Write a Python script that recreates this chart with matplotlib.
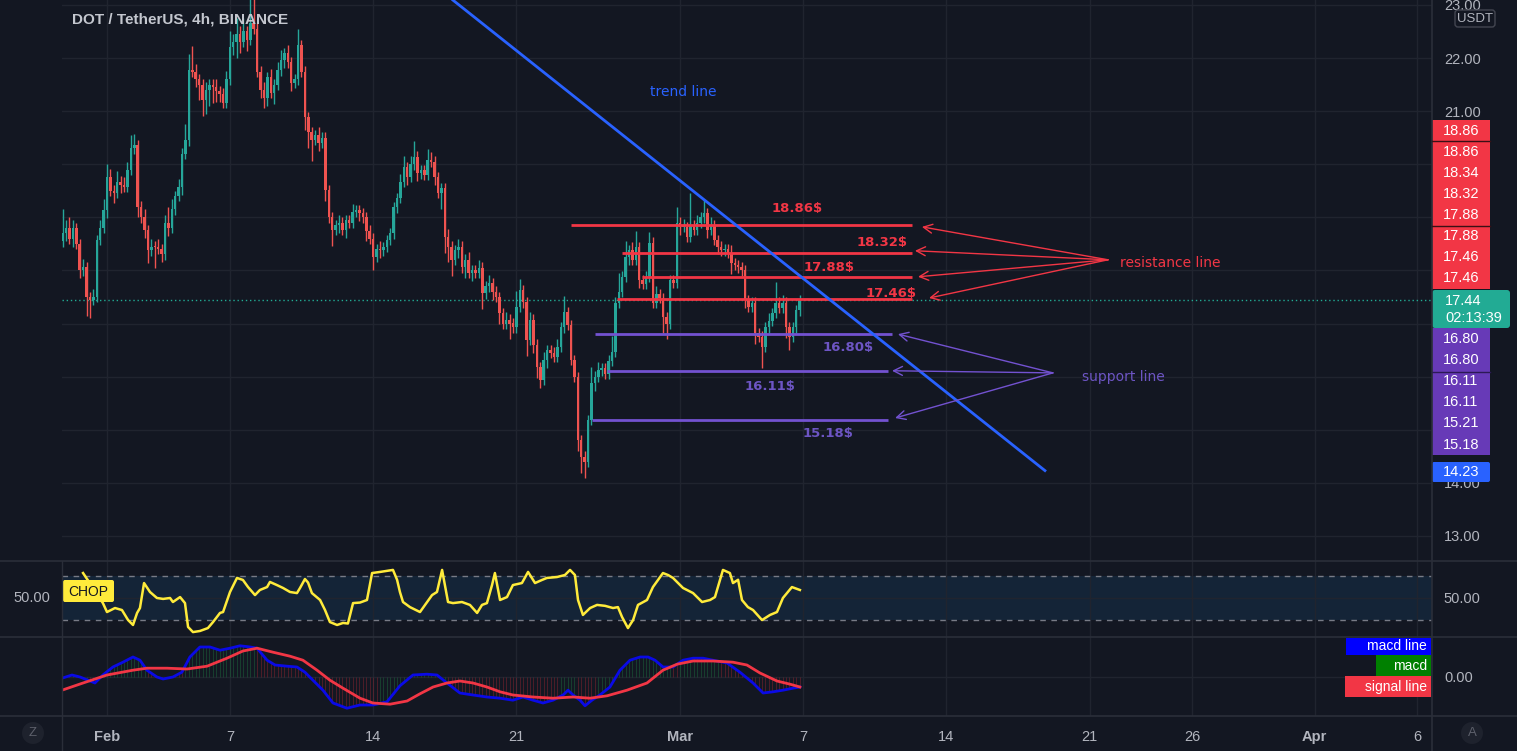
import numpy as np
import matplotlib
matplotlib.use("Agg")
import matplotlib.pyplot as plt
from matplotlib.patches import Rectangle, FancyBboxPatch, Circle

# ---------------- data ----------------
bar0_day = -13 / 6      # first 4h candle (days from Feb 1 00:00) -> Jan 29 20:00
bar_days = 1 / 6        # 4 hours
open0 = 18.55

closes = [
    18.70, 18.80, 18.60, 18.80, 18.50, 18.00, 18.06, 17.50, 17.45, 17.50,
    18.57, 18.80, 19.14, 19.76, 19.50, 19.46, 19.67, 19.60, 19.57, 19.90,
    20.30, 20.36, 19.20, 19.00, 18.76, 18.38, 18.45, 18.44, 18.40, 18.30,
    18.90, 18.80, 19.15, 19.40, 19.57, 20.20, 20.45, 21.77, 21.74, 21.60,
    21.50, 21.20, 21.40, 21.50, 21.45, 21.38, 21.33, 21.15, 21.60, 22.20,
    22.30, 22.45, 22.30, 22.50, 22.34, 22.65, 22.55, 21.74, 21.40, 21.25,
    21.64, 21.34, 21.50, 21.77, 21.96, 22.09, 21.92, 21.53, 21.60, 22.24,
    21.74, 20.89, 20.60, 20.46, 20.55, 20.40, 20.50, 19.51, 19.00, 18.76,
    18.85, 18.90, 18.76, 18.95, 18.90, 19.10, 19.14, 19.08, 19.00, 18.75,
    18.60, 18.25, 18.40, 18.38, 18.44, 18.57, 18.70, 19.19, 19.36, 19.67,
    19.95, 19.76, 20.00, 20.14, 19.83, 19.89, 19.80, 20.08, 20.05, 19.76,
    19.46, 19.55, 18.63, 18.45, 18.20, 18.38, 18.45, 18.06, 18.20, 17.95,
    18.00, 17.95, 18.05, 17.57, 17.70, 17.76, 17.60, 17.50, 17.20, 17.00,
    17.07, 17.00, 16.93, 17.31, 17.63, 17.40, 16.69, 17.07, 16.60, 16.18,
    15.94, 16.31, 16.50, 16.45, 16.37, 16.56, 16.93, 17.22, 16.97, 16.31,
    15.99, 14.80, 14.49, 14.39, 15.18, 15.88, 16.00, 16.12, 16.16, 16.05,
    16.30, 16.46, 17.39, 17.60, 17.88, 18.25, 18.38, 18.20, 18.44, 17.82,
    17.75, 17.88, 18.52, 17.39, 17.55, 17.48, 17.12, 17.00, 17.82, 17.76,
    18.90, 18.82, 18.82, 18.63, 18.85, 18.76, 18.90, 19.00, 19.08, 18.76,
    18.85, 18.57, 18.45, 18.38, 18.40, 18.33, 18.14, 18.10, 18.06, 18.00,
    17.44, 17.31, 17.39, 16.82, 16.75, 16.56, 16.93, 17.05, 17.20, 17.39,
    17.30, 17.39, 16.93, 16.75, 16.93, 17.25, 17.44]

wick_up = [
    .45, .15, .2, .15, .1, .1, .15, .1, .1, .15,
    .1, .15, .2, .25, .15, .1, .2, .1, .15, .15,
    .25, .2, .1, .1, .15, .1, .15, .1, .15, .1,
    .15, .3, .2, .1, .15, .1, .3, .3, .45, .15,
    .1, .1, .15, .1, .1, .15, .1, .1, .15, .3,
    .15, .3, .15, .25, .1, .6, .5, .1, .1, .15,
    .1, .15, .1, .15, .2, .1, .15, .1, .1, .3,
    .1, .1, .1, .1, .1, .15, .1, .1, .1, .1,
    .1, .15, .1, .1, .1, .15, .1, .1, .1, .1,
    .1, .1, .1, .15, .1, .1, .1, .1, .1, .15,
    .2, .1, .15, .3, .1, .1, .1, .2, .15, .1,
    .1, .1, .1, .15, .1, .1, .15, .1, .1, .15,
    .1, .1, .15, .1, .1, .15, .1, .1, .1, .1,
    .15, .1, .1, .3, .2, .1, .1, .15, .1, .1,
    .1, .15, .1, .1, .1, .15, .1, .3, .1, .1,
    .1, .1, .1, .1, .1, .3, .1, .15, .1, .1,
    .1, .3, .1, .35, .1, .3, .1, .15, .3, .1,
    .1, .1, .2, .1, .15, .1, .1, .1, .1, .1,
    .3, .1, .15, .1, .6, .1, .15, .1, .25, .1,
    .15, .1, .1, .1, .1, .1, .15, .1, .1, .1,
    .1, .1, .1, .1, .1, .1, .1, .15, .1, .4,
    .1, .15, .1, .1, .1, .1, .1]

wick_dn = [
    .1, .15, .1, .15, .1, .15, .1, .35, .35, .1,
    .1, .1, .1, .15, .1, .2, .1, .15, .1, .1,
    .1, .1, .2, .1, .15, .25, .1, .4, .1, .15,
    .1, .15, .1, .1, .1, .15, .1, .1, .1, .15,
    .3, .3, .25, .3, .3, .2, .15, .1, .1, .1,
    .15, .3, .2, .1, .2, .1, .1, .1, .15, .2,
    .15, .1, .2, .1, .1, .15, .1, .15, .1, .1,
    .1, .25, .3, .4, .1, .15, .1, .2, .1, .3,
    .1, .15, .1, .15, .1, .1, .1, .15, .1, .2,
    .1, .25, .1, .15, .1, .1, .1, .1, .1, .1,
    .1, .15, .1, .1, .15, .1, .1, .1, .1, .15,
    .1, .3, .3, .3, .3, .1, .15, .1, .2, .1,
    .15, .1, .1, .3, .1, .1, .15, .1, .2, .1,
    .1, .3, .1, .1, .1, .1, .3, .1, .15, .2,
    .15, .1, .15, .1, .1, .1, .1, .1, .1, .1,
    .1, .2, .3, .3, .1, .1, .15, .1, .1, .1,
    .1, .1, .1, .1, .1, .1, .15, .1, .1, .15,
    .1, .1, .1, .1, .1, .1, .3, .3, .1, .1,
    .1, .15, .1, .1, .1, .1, .1, .1, .1, .15,
    .1, .1, .15, .1, .1, .1, .2, .1, .1, .1,
    .15, .1, .1, .2, .1, .4, .1, .1, .1, .1,
    .1, .1, .2, .25, .1, .1, .1]

last_price = 17.44
countdown = "02:13:39"

tick_days = [0, 6, 13, 20, 28, 34, 41, 48, 53, 59, 64]
tick_labels = ['Feb', '7', '14', '21', 'Mar', '7', '14', '21', '26', 'Apr', '6']
month_labels = ['Feb', 'Mar', 'Apr']
price_ticks = [13, 14, 15, 16, 17, 18, 19, 20, 21, 22, 23]
price_ticks_shown = [13, 14, 21, 22, 23]   # the others sit under the coloured tags

# drawings
trend_pts = [(16.90, 23.09), (45.82, 14.23)]
res_levels = [18.86, 18.32, 17.88, 17.46]
res_start = [22.67, 25.16, 26.14, 24.91]
res_end = [39.33, 39.33, 39.33, 39.33]
res_text_pos = [(33.71, 19.17), (37.86, 18.53), (35.27, 18.06), (38.30, 17.57)]
res_arrow_src = (48.90, 18.20)
res_arrow_tips = [(39.81, 18.82), (39.47, 18.37), (39.62, 17.88), (40.16, 17.48)]
sup_levels = [16.80, 16.11, 15.18]
sup_start = [23.84, 24.43, 23.69]
sup_end = [38.35, 38.15, 38.15]
sup_text_pos = [(36.20, 16.54), (32.39, 15.82), (35.22, 14.92)]
sup_arrow_src = (46.21, 16.07)
sup_arrow_tips = [(38.64, 16.80), (38.35, 16.11), (38.50, 15.22)]

# right-scale tags
tag_red = ['18.86', '18.86', '18.34', '18.32', '17.88', '17.88', '17.46', '17.46']
tag_purple = ['16.80', '16.80', '16.11', '16.11', '15.21', '15.18']
tag_blue = '14.23'

# CHOP
chop_t = [-1.17, -0.83, -0.49, -0.20, 0.00, 0.39, 0.73, 1.03, 1.27, 1.47,
          1.61, 1.81, 2.10, 2.44, 2.74, 3.08, 3.22, 3.57, 3.81, 3.96,
          4.20, 4.54, 4.93, 5.18, 5.52, 5.67, 6.01, 6.35, 6.64, 6.89,
          7.23, 7.47, 7.82, 7.96, 8.30, 8.60, 8.94, 9.28, 9.43, 9.67,
          9.82, 10.01, 10.41, 10.65, 10.89, 11.24, 11.53, 11.77, 12.02, 12.36,
          12.70, 12.95, 13.34, 13.97, 14.17, 14.31, 14.46, 14.80, 15.29, 15.88,
          16.12, 16.37, 16.66, 16.90, 17.34, 17.73, 18.08, 18.32, 18.56, 18.81,
          18.95, 19.20, 19.54, 19.83, 20.27, 20.57, 20.91, 21.25, 21.49, 21.98,
          22.37, 22.62, 22.86, 23.01, 23.25, 23.60, 23.94, 24.33, 24.72, 24.96,
          25.16, 25.45, 25.70, 25.94, 26.38, 26.67, 27.16, 27.41, 27.65, 28.14,
          28.63, 29.07, 29.46, 29.70, 30.09, 30.43, 30.58, 30.83, 31.02, 31.31,
          31.56, 32.00, 32.39, 32.73, 33.02, 33.46, 33.85]
chop_v = [63.7, 58.0, 52.0, 47.2, 42.3, 44.5, 43.4, 37.9, 35.2, 41.8,
          44.5, 58.2, 53.3, 50.0, 49.5, 50.0, 47.8, 50.5, 47.2, 34.1,
          31.3, 31.9, 33.5, 36.8, 41.8, 42.3, 53.3, 61.0, 59.9, 56.0,
          51.6, 54.4, 56.0, 58.8, 57.1, 55.5, 53.3, 52.7, 55.5, 60.4,
          58.5, 52.7, 48.9, 43.4, 36.8, 35.2, 36.3, 36.0, 47.2, 47.5,
          48.9, 63.7, 64.3, 65.4, 60.0, 53.3, 47.8, 45.0, 42.3, 51.6,
          53.3, 65.4, 47.8, 47.2, 47.8, 46.2, 41.8, 46.2, 47.2, 57.1,
          63.7, 48.9, 50.5, 57.1, 58.2, 64.3, 58.2, 59.9, 61.0, 61.5,
          62.6, 65.4, 62.6, 48.9, 40.7, 44.5, 46.2, 45.7, 44.5, 45.0,
          39.6, 33.5, 37.9, 46.2, 48.9, 56.0, 63.7, 62.6, 61.0, 55.5,
          52.7, 47.8, 48.9, 50.5, 65.4, 63.7, 58.2, 60.0, 48.9, 45.0,
          43.4, 37.9, 40.7, 42.3, 50.0, 56.0, 54.4]
chop_upper, chop_lower = 61.8, 38.2

# MACD
macd_t = [-2.20, -1.71, -1.32, -0.59, -0.20, 0.29, 0.78, 1.27, 1.61, 1.95,
          2.44, 2.74, 3.22, 3.66, 4.05, 4.54, 5.03, 5.52, 6.01, 6.50,
          6.99, 7.33, 7.82, 8.21, 8.79, 9.28, 9.67, 10.06, 10.55, 11.04,
          11.72, 12.36, 12.99, 13.68, 14.31, 14.95, 15.63, 16.12, 16.61, 17.24,
          17.88, 18.56, 19.20, 19.83, 20.32, 20.81, 21.30, 21.79, 22.28, 22.52,
          22.77, 23.11, 23.35, 23.69, 24.08, 24.57, 25.06, 25.55, 26.04, 26.43,
          26.77, 27.16, 27.65, 28.14, 28.63, 29.12, 29.60, 30.29, 30.92, 31.56,
          32.05, 32.54, 33.02, 33.51, 33.85]
macd_v = [-0.03, 0.05, 0.00, -0.15, 0.05, 0.25, 0.37, 0.50, 0.42, 0.17,
          0.00, -0.05, 0.00, 0.12, 0.50, 0.75, 0.75, 0.67, 0.72, 0.78,
          0.75, 0.72, 0.42, 0.30, 0.27, 0.25, 0.12, -0.08, -0.33, -0.65,
          -0.78, -0.70, -0.70, -0.62, -0.22, 0.05, 0.07, 0.05, -0.15, -0.40,
          -0.45, -0.50, -0.53, -0.58, -0.50, -0.58, -0.65, -0.58, -0.45, -0.33,
          -0.45, -0.58, -0.72, -0.58, -0.45, -0.25, 0.17, 0.42, 0.50, 0.50,
          0.42, 0.25, 0.25, 0.42, 0.47, 0.47, 0.42, 0.35, 0.12, -0.15,
          -0.40, -0.37, -0.33, -0.28, -0.25]
sig_t = [-2.20, -1.17, 0.00, 1.27, 1.95, 2.93, 3.91, 4.89, 5.86, 6.64,
         7.33, 8.11, 8.94, 9.57, 10.26, 10.89, 11.53, 12.36, 12.99, 13.83,
         14.66, 15.29, 15.93, 16.61, 17.24, 17.88, 18.56, 19.20, 19.83, 20.81,
         21.79, 22.77, 23.60, 24.43, 25.40, 26.38, 27.16, 27.85, 28.63, 29.60,
         30.58, 31.26, 31.90, 32.73, 33.37, 33.85]
sig_v = [-0.33, -0.15, 0.05, 0.17, 0.22, 0.22, 0.20, 0.27, 0.47, 0.65,
         0.72, 0.62, 0.52, 0.42, 0.17, -0.08, -0.28, -0.53, -0.65, -0.68,
         -0.60, -0.42, -0.25, -0.15, -0.10, -0.15, -0.25, -0.37, -0.45, -0.50,
         -0.53, -0.50, -0.53, -0.47, -0.33, -0.15, 0.17, 0.32, 0.40, 0.40,
         0.37, 0.30, 0.10, -0.10, -0.18, -0.25]
macd_legend = [('macd line', '#0000ff'), ('macd', '#008000'), ('signal line', '#f23645')]

# ---------------- style ----------------
W, H = 1517, 751
BG = '#131722'
GRID = '#20242f'
SEP = '#2a2e39'
TXT = '#b2b5be'
UP, DN = '#26a69a', '#ef5350'
RED = '#f23645'
PURPLE = '#7352d1'
PURPLE_T = '#6d55c4'
TEAL = '#22ab94'
BLUE = '#2962ff'

plt.rcParams['font.family'] = ['Liberation Sans', 'DejaVu Sans']

fig = plt.figure(figsize=(W / 100, H / 100), dpi=100, facecolor=BG)


def rect(x0, y0, x1, y1):
    return [x0 / W, 1 - y1 / H, (x1 - x0) / W, (y1 - y0) / H]


XL, XR = 62, 1432
ax = fig.add_axes(rect(XL, 0, XR, 561))
axc = fig.add_axes(rect(XL, 561, XR, 637), sharex=ax)
axm = fig.add_axes(rect(XL, 637, XR, 716), sharex=ax)

px_per_day = 20.47
x_left = (XL - 107) / px_per_day
x_right = (XR - 107) / px_per_day

for a in (ax, axc, axm):
    a.set_facecolor(BG)
    for s in a.spines.values():
        s.set_visible(False)
    a.set_xlim(x_left, x_right)
    a.set_xticks(tick_days)
    a.grid(True, axis='x', color=GRID, lw=1)
    a.tick_params(axis='x', length=0, labelbottom=False)
    a.yaxis.tick_right()
    a.tick_params(axis='y', length=0, colors=TXT, labelsize=10.5, pad=8.6)

# ---------------- main price pane ----------------
ax.set_ylim(22 - (561 - 58) / 53.1, 22 + 58 / 53.1)
ax.set_yticks(price_ticks)
ax.set_yticklabels([f"{v:.2f}" if v in price_ticks_shown else '' for v in price_ticks])
ax.grid(True, axis='y', color=GRID, lw=1)

closes_a = np.array(closes)
opens_a = np.concatenate([[open0], closes_a[:-1]])
t = bar0_day + np.arange(len(closes_a)) * bar_days
hi = np.maximum(opens_a, closes_a) + np.array(wick_up)
lo = np.minimum(opens_a, closes_a) - np.array(wick_dn)
cols = np.where(closes_a >= opens_a, UP, DN)
ax.vlines(t, lo, hi, colors=cols, lw=1, zorder=3)
body_h = np.maximum(np.abs(closes_a - opens_a), 0.02)
ax.bar(t, body_h, bottom=np.minimum(opens_a, closes_a), width=bar_days * 0.72,
       color=cols, lw=0, zorder=4)

ax.axhline(last_price, color=TEAL, lw=1, ls=(0, (1, 2)), zorder=2)

# resistance / support levels
for lv, s, e in zip(res_levels, res_start, res_end):
    ax.plot([s, e], [lv, lv], color=RED, lw=2, zorder=5, solid_capstyle='butt')
for lv, (tx, ty) in zip(res_levels, res_text_pos):
    ax.text(tx, ty, f"{lv:.2f}$", color=RED, fontsize=9.5, fontweight='bold',
            family='DejaVu Sans', ha='center', va='center', zorder=6)
for tip in res_arrow_tips:
    ax.annotate('', xy=tip, xytext=res_arrow_src,
                arrowprops=dict(arrowstyle='->', color=RED, lw=1,
                                shrinkA=0, shrinkB=0, mutation_scale=16), zorder=6)
ax.text(res_arrow_src[0] + 0.6, res_arrow_src[1] - 0.06, 'resistance line', color=RED,
        fontsize=10, family='DejaVu Sans', ha='left', va='center', zorder=6)

for lv, s, e in zip(sup_levels, sup_start, sup_end):
    ax.plot([s, e], [lv, lv], color=PURPLE, lw=2, zorder=5, solid_capstyle='butt')
for lv, (tx, ty) in zip(sup_levels, sup_text_pos):
    ax.text(tx, ty, f"{lv:.2f}$", color=PURPLE_T, fontsize=9.5, fontweight='bold',
            family='DejaVu Sans', ha='center', va='center', zorder=6)
for tip in sup_arrow_tips:
    ax.annotate('', xy=tip, xytext=sup_arrow_src,
                arrowprops=dict(arrowstyle='->', color=PURPLE, lw=1,
                                shrinkA=0, shrinkB=0, mutation_scale=16), zorder=6)
ax.text(sup_arrow_src[0] + 1.4, sup_arrow_src[1] - 0.08, 'support line', color=PURPLE_T,
        fontsize=10, family='DejaVu Sans', ha='left', va='center', zorder=6)

# trend line
ax.plot([p[0] for p in trend_pts], [p[1] for p in trend_pts], color=BLUE, lw=2, zorder=5)
ax.text(28.14, 21.36, 'trend line', color=BLUE, fontsize=10, family='DejaVu Sans',
        ha='center', va='center', zorder=6)

# ---------------- CHOP pane ----------------
axc.set_ylim(28.6, 70.3)
axc.set_yticks([50])
axc.set_yticklabels(['50.00'])
axc.grid(True, axis='y', color=GRID, lw=1)
axc.axhspan(chop_lower, chop_upper, color='#142437', zorder=1, lw=0)
for lv in (chop_upper, chop_lower):
    axc.axhline(lv, color='#787b86', lw=1, ls=(0, (4, 4)), zorder=2)
axc.plot(chop_t, chop_v, color='#ffeb3b', lw=1.8, zorder=4)

# ---------------- MACD pane ----------------
axm.set_ylim(-0.975, 1.0)
axm.set_yticks([0])
axm.set_yticklabels(['0.00'])
axm.grid(True, axis='y', color=GRID, lw=1)
th = t[t >= macd_t[0]]
mh = np.interp(th, macd_t, macd_v)
sh = np.interp(th, sig_t, sig_v)
hcols = np.where(mh >= sh, '#1c6b3e', '#8e2530')
axm.vlines(th, 0, mh, colors=hcols, lw=0.6, alpha=0.55, zorder=2)
axm.plot(macd_t, macd_v, color='#0a0ae6', lw=2, zorder=3)
axm.plot(sig_t, sig_v, color='#f23645', lw=2, zorder=4)

axm.tick_params(axis='x', labelbottom=True, colors=TXT, labelsize=10.5, pad=10)
axm.set_xticklabels(tick_labels)
for lab in axm.get_xticklabels():
    if lab.get_text() in month_labels:
        lab.set_fontweight('bold')

# ---------------- overlay (pixel coords) ----------------
ov = fig.add_axes([0, 0, 1, 1], zorder=10)
ov.set_xlim(0, W)
ov.set_ylim(H, 0)
ov.axis('off')
ov.patch.set_alpha(0)

ov.text(72, 20, 'DOT / TetherUS, 4h, BINANCE', color='#c4c7cf',
        fontsize=11, fontweight='bold', ha='left', va='center')

# separators
for yy in (561, 637, 716):
    ov.plot([0, W], [yy, yy], color=SEP, lw=1.2)
ov.plot([XR, XR], [0, H], color=SEP, lw=1.2)
ov.plot([XL, XL], [561, H], color=SEP, lw=1.0)

# USDT unit box
ov.add_patch(FancyBboxPatch((1455, 10), 40, 17, boxstyle='round,pad=0,rounding_size=3',
                            fc=BG, ec='#434651', lw=1))
ov.text(1475, 18.5, 'USDT', color=TXT, fontsize=9.5, ha='center', va='center')

# red tags
ov.add_patch(Rectangle((XR, 120), 58, 169, fc=RED, ec='none'))
for yy in (141, 226):
    ov.plot([XR, XR + 58], [yy, yy], color='#3a1016', lw=1)
for k, v in enumerate(tag_red):
    ov.text(1461, 120 + 21.1 * (k + 0.5), v, color='white', fontsize=10.5,
            ha='center', va='center')
# last price tag
ov.add_patch(FancyBboxPatch((XR, 290), 78, 38, boxstyle='round,pad=0,rounding_size=3',
                            fc=TEAL, ec='none'))
ov.text(1445, 301, f"{last_price:.2f}", color='white', fontsize=10.5, ha='left', va='center')
ov.text(1445, 318, countdown, color='white', fontsize=10.5, ha='left', va='center')
# purple tags
ov.add_patch(Rectangle((XR, 328), 58, 127, fc='#673ab7', ec='none'))
ov.plot([XR, XR + 58], [372, 372], color='#2c1a55', lw=1)
for k, v in enumerate(tag_purple):
    ov.text(1461, 328 + 21.2 * (k + 0.5), v, color='white', fontsize=10.5,
            ha='center', va='center')
# trend line end tag
ov.add_patch(FancyBboxPatch((XR, 462), 58, 20, boxstyle='round,pad=0,rounding_size=2',
                            fc=BLUE, ec='none'))
ov.text(1461, 472, tag_blue, color='white', fontsize=10.5, ha='center', va='center')

# CHOP label and left scale value
ov.add_patch(FancyBboxPatch((63, 580), 51, 22, boxstyle='round,pad=0,rounding_size=2',
                            fc='#ffeb3b', ec='none'))
ov.text(88.5, 591.5, 'CHOP', color='#131722', fontsize=10, ha='center', va='center')
ov.text(32, 598, '50.00', color=TXT, fontsize=10.5, ha='center', va='center')

# MACD legend
leg_boxes = [(1346, 638, 655), (1376, 655, 676), (1345, 676, 697)]
for (label, colr), (x0, y0, y1) in zip(macd_legend, leg_boxes):
    ov.add_patch(Rectangle((x0, y0), 1431 - x0, y1 - y0, fc=colr, ec='none'))
    ov.text(1427, (y0 + y1) / 2, label, color='white', fontsize=10, ha='right', va='center')

# corner buttons
for cx, letter in ((33, 'Z'), (1472, 'A')):
    ov.add_patch(Circle((cx, 733), 11, fc='#1e222d', ec='none'))
    ov.text(cx, 733, letter, color='#5d606b', fontsize=9.5, ha='center', va='center')

fig.savefig('out.png', dpi=100, facecolor=BG)
